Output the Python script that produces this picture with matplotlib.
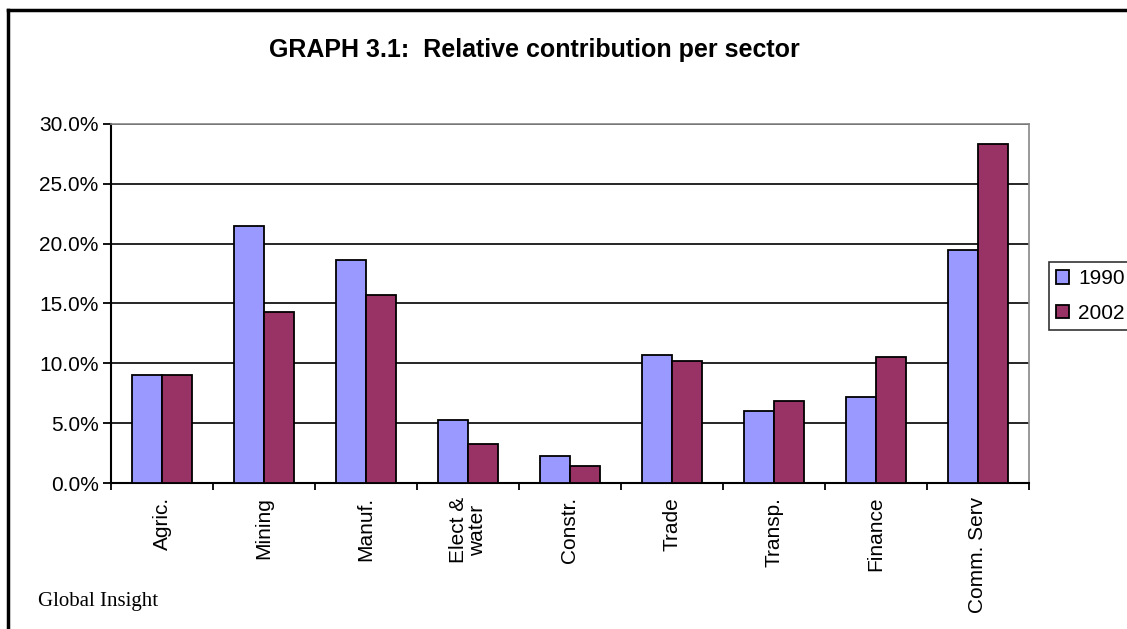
import numpy as np
import matplotlib.pyplot as plt
from matplotlib.lines import Line2D
from matplotlib.ticker import PercentFormatter

sectors = ['Agric.', 'Mining', 'Manuf.', 'Elect &\nwater', 'Constr.',
           'Trade', 'Transp.', 'Finance', 'Comm. Serv']
share_1990 = [9.0, 21.45, 18.6, 5.3, 2.3, 10.7, 6.0, 7.15, 19.45]
share_2002 = [9.0, 14.25, 15.75, 3.3, 1.45, 10.2, 6.85, 10.5, 28.3]
years = ['1990', '2002']
colors = ['#9999FF', '#993366']

plt.rcParams['font.family'] = ['Liberation Sans', 'DejaVu Sans']

fig = plt.figure(figsize=(11.27, 6.29), dpi=100)
ax = fig.add_axes([0.0985, 0.232, 0.8145, 0.571])

x = np.arange(len(sectors))
w = 0.29
ax.bar(x - w / 2, share_1990, w, color=colors[0], edgecolor='black',
       linewidth=1.3, label=years[0], zorder=3)
ax.bar(x + w / 2, share_2002, w, color=colors[1], edgecolor='black',
       linewidth=1.3, label=years[1], zorder=3)

ax.set_xlim(-0.5, len(sectors) - 0.5)
ax.set_ylim(0, 30)
ax.set_yticks(np.arange(0, 31, 5))
ax.yaxis.set_major_formatter(PercentFormatter(decimals=1))
ax.grid(axis='y', color='black', linewidth=1.2, zorder=0)

# category ticks sit between groups
ax.set_xticks(np.arange(-0.5, len(sectors), 1))
ax.set_xticklabels([])
ax.set_xticks(x, minor=True)
ax.set_xticklabels(sectors, minor=True, rotation=90, fontsize=15,
                   va='top', ha='center', linespacing=0.95)
ax.tick_params(axis='x', which='minor', length=0, pad=10)
ax.tick_params(axis='x', which='major', direction='out', length=5, width=1.3)
ax.tick_params(axis='y', direction='out', length=6, width=1.3, labelsize=15, pad=3)

for side in ['left', 'bottom']:
    ax.spines[side].set_linewidth(1.5)
    ax.spines[side].set_color('black')
for side in ['top', 'right']:
    ax.spines[side].set_color('#888888')
    ax.spines[side].set_linewidth(1.2)

fig.text(0.474, 0.92, 'GRAPH 3.1:  Relative contribution per sector',
         ha='center', va='center', fontsize=18, fontweight='bold')
fig.text(0.034, 0.043, 'Global Insight', ha='left', va='center',
         fontsize=15, family='Liberation Serif')

leg = fig.legend(loc='upper left', bbox_to_anchor=(0.9308, 0.5835),
                 borderaxespad=0, fontsize=15, frameon=True, fancybox=False,
                 handlelength=0.6, handleheight=0.6, handletextpad=0.45,
                 borderpad=0.35, labelspacing=0.75)
leg.get_frame().set_edgecolor('black')
leg.get_frame().set_linewidth(1.2)

# outer frame: only top and left edges are visible
fig.add_artist(Line2D([0.0071, 1.0], [0.984, 0.984], color='black', linewidth=2.5))
fig.add_artist(Line2D([0.0071, 0.0071], [0.0, 0.984], color='black', linewidth=2.5))

fig.savefig('out.png', dpi=100)
